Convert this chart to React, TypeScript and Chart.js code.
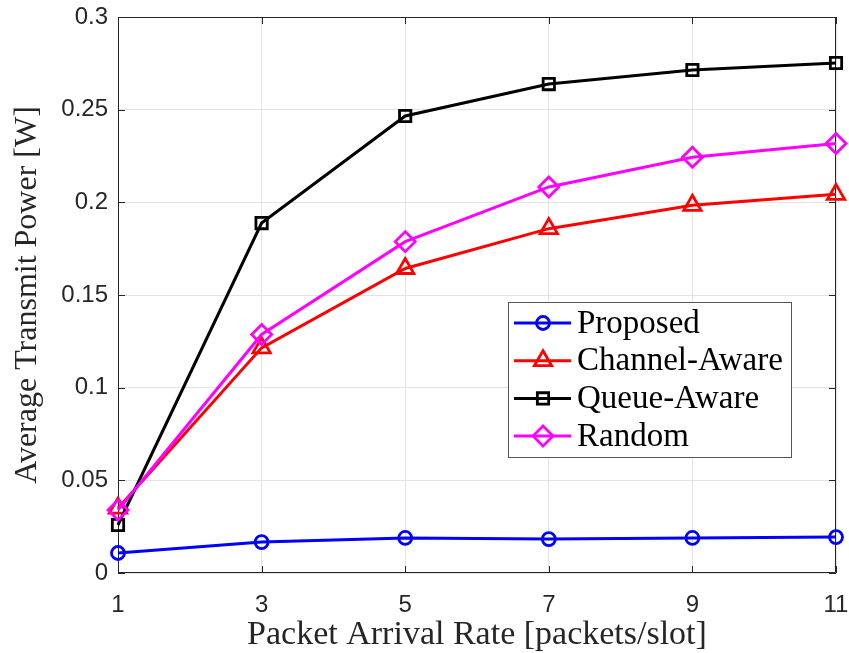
import React, { useEffect, useRef } from "react";
import { Chart, registerables } from "chart.js";

Chart.register(...registerables);

const X_VALUES = [1, 3, 5, 7, 9, 11];
const X_TICKS = [1, 3, 5, 7, 9, 11];
const Y_TICKS = [0, 0.05, 0.1, 0.15, 0.2, 0.25, 0.3];

const PROPOSED = [0.0108, 0.0167, 0.0189, 0.0183, 0.0189, 0.0194];
const CHANNEL_AWARE = [0.035, 0.1215, 0.1643, 0.1858, 0.1984, 0.2043];
const QUEUE_AWARE = [0.0259, 0.1888, 0.2466, 0.2638, 0.2714, 0.2752];
const RANDOM = [0.034, 0.1287, 0.1788, 0.2083, 0.2243, 0.2318];

const SERIES_NAMES = ["Proposed", "Channel-Aware", "Queue-Aware", "Random"];
const SERIES_VALUES = [PROPOSED, CHANNEL_AWARE, QUEUE_AWARE, RANDOM];
const COLORS = ["#0000ff", "#ff0000", "#000000", "#ff00ff"];
const POINT_STYLES = ["circle", "triangle", "rect", "rectRot"];
const POINT_RADII = [6.5, 10, 8, 10];

const SERIF = "'Liberation Serif', 'Times New Roman', serif";
const SANS = "'Liberation Sans', Arial, Helvetica, sans-serif";
const AXIS_COLOR = "#262626";

function drawMarker(ctx: CanvasRenderingContext2D, style: string, x: number, y: number, r: number) {
  ctx.beginPath();
  if (style === "circle") {
    ctx.arc(x, y, r, 0, Math.PI * 2);
  } else if (style === "triangle") {
    let rad = 0;
    ctx.moveTo(x + Math.sin(rad) * r, y - Math.cos(rad) * r);
    rad += (2 * Math.PI) / 3;
    ctx.lineTo(x + Math.sin(rad) * r, y - Math.cos(rad) * r);
    rad += (2 * Math.PI) / 3;
    ctx.lineTo(x + Math.sin(rad) * r, y - Math.cos(rad) * r);
    ctx.closePath();
  } else if (style === "rect") {
    const s = Math.SQRT1_2 * r;
    ctx.rect(x - s, y - s, 2 * s, 2 * s);
  } else if (style === "rectRot") {
    ctx.moveTo(x, y - r);
    ctx.lineTo(x + r, y);
    ctx.lineTo(x, y + r);
    ctx.lineTo(x - r, y);
    ctx.closePath();
  }
  ctx.stroke();
}

const framePlugin = {
  id: "frame",
  beforeDatasetsDraw(chart: any) {
    const { ctx, chartArea: a, scales } = chart;
    ctx.save();
    ctx.strokeStyle = AXIS_COLOR;
    ctx.lineWidth = 1;
    ctx.beginPath();
    ctx.rect(a.left + 0.5, a.top + 0.5, a.right - a.left - 1, a.bottom - a.top - 1);
    ctx.stroke();
    const tl = 7;
    ctx.beginPath();
    for (const v of X_TICKS) {
      const px = Math.round(scales.x.getPixelForValue(v)) + 0.5;
      ctx.moveTo(px, a.bottom);
      ctx.lineTo(px, a.bottom - tl);
      ctx.moveTo(px, a.top);
      ctx.lineTo(px, a.top + tl);
    }
    for (const v of Y_TICKS) {
      const py = Math.round(scales.y.getPixelForValue(v)) + 0.5;
      ctx.moveTo(a.left, py);
      ctx.lineTo(a.left + tl, py);
      ctx.moveTo(a.right, py);
      ctx.lineTo(a.right - tl, py);
    }
    ctx.stroke();
    ctx.restore();
  },
};

const legendPlugin = {
  id: "customLegend",
  afterDraw(chart: any) {
    const { ctx, chartArea: a } = chart;
    const left = a.left + 390;
    const top = a.top + 285;
    const w = 283;
    const h = 155;
    ctx.save();
    ctx.fillStyle = "#ffffff";
    ctx.fillRect(left, top, w, h);
    ctx.strokeStyle = "#555555";
    ctx.lineWidth = 1;
    ctx.strokeRect(left + 0.5, top + 0.5, w, h);
    ctx.font = `33px ${SERIF}`;
    ctx.textBaseline = "middle";
    ctx.textAlign = "left";
    for (let i = 0; i < SERIES_NAMES.length; i++) {
      const y = top + 21 + i * 37.7;
      ctx.strokeStyle = COLORS[i];
      ctx.lineWidth = 3;
      ctx.beginPath();
      ctx.moveTo(left + 6, y);
      ctx.lineTo(left + 63, y);
      ctx.stroke();
      ctx.lineWidth = 2.8;
      drawMarker(ctx, POINT_STYLES[i], left + 35, y, POINT_RADII[i]);
      ctx.fillStyle = "#000000";
      ctx.fillText(SERIES_NAMES[i], left + 69, y + 1);
    }
    ctx.restore();
  },
};

export default function App() {
  const ref = useRef<HTMLCanvasElement | null>(null);
  useEffect(() => {
    document.body.style.margin = "0";
    if (!ref.current) return;
    const datasets = SERIES_NAMES.map((name, i) => ({
      label: name,
      data: X_VALUES.map((x, j) => ({ x, y: SERIES_VALUES[i][j] })),
      borderColor: COLORS[i],
      backgroundColor: "rgba(0,0,0,0)",
      pointBackgroundColor: "rgba(0,0,0,0)",
      pointBorderColor: COLORS[i],
      pointStyle: POINT_STYLES[i],
      pointRadius: POINT_RADII[i],
      pointBorderWidth: 2.8,
      borderWidth: 3,
      tension: 0,
      fill: false,
      clip: false as any,
      order: SERIES_NAMES.length - 1 - i,
    }));
    const chart = new Chart(ref.current, {
      type: "line",
      data: { datasets },
      plugins: [framePlugin, legendPlugin],
      options: {
        animation: false,
        responsive: false,
        layout: { padding: { top: 17, right: 13, left: 0, bottom: 0 } },
        plugins: { legend: { display: false }, tooltip: { enabled: false } },
        scales: {
          x: {
            type: "linear",
            min: 1,
            max: 11,
            afterBuildTicks: (s: any) => {
              s.ticks = X_TICKS.map((v) => ({ value: v }));
            },
            afterFit: (s: any) => {
              s.height = 80;
              s.paddingLeft = 0;
              s.paddingRight = 0;
            },
            ticks: {
              autoSkip: false,
              maxRotation: 0,
              padding: 18,
              color: AXIS_COLOR,
              font: { family: SANS, size: 24 },
              callback: (v: any) => String(v),
            },
            grid: { color: "#e3e3e3", lineWidth: 1, drawTicks: false },
            border: { display: false },
            title: {
              display: true,
              text: "Packet Arrival Rate [packets/slot]",
              color: AXIS_COLOR,
              font: { family: SERIF, size: 34 },
              padding: { top: 0, bottom: -2 },
            },
          },
          y: {
            type: "linear",
            min: 0,
            max: 0.3,
            afterBuildTicks: (s: any) => {
              s.ticks = Y_TICKS.map((v) => ({ value: v }));
            },
            afterFit: (s: any) => {
              s.width = 118;
              s.paddingTop = 0;
              s.paddingBottom = 0;
            },
            ticks: {
              padding: 10,
              color: AXIS_COLOR,
              font: { family: SANS, size: 24 },
              callback: (v: any) => String(Number(Number(v).toFixed(3))),
            },
            grid: { color: "#e3e3e3", lineWidth: 1, drawTicks: false },
            border: { display: false },
            title: {
              display: true,
              text: "Average Transmit Power [W]",
              color: AXIS_COLOR,
              font: { family: SERIF, size: 32 },
              padding: { top: 8, bottom: 0 },
            },
          },
        },
      },
    });
    return () => chart.destroy();
  }, []);
  return <canvas ref={ref} width={849} height={653} style={{ display: "block" }} />;
}
